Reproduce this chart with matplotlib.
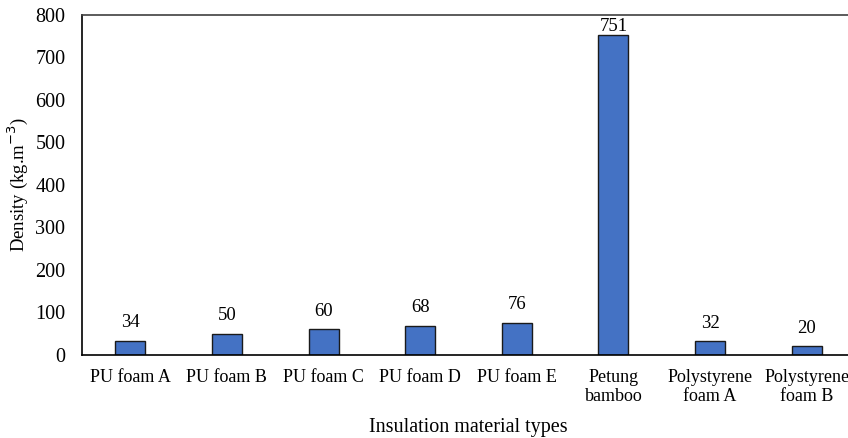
import matplotlib.pyplot as plt

plt.rcParams['font.family'] = ['Liberation Serif', 'DejaVu Serif']

# Densidade dos materiais isolantes
materiais = ['PU foam A', 'PU foam B', 'PU foam C', 'PU foam D', 'PU foam E',
             'Petung\nbamboo', 'Polystyrene\nfoam A', 'Polystyrene\nfoam B']
densidade = [34, 50, 60, 68, 76, 751, 32, 20]

fig = plt.figure(figsize=(8.48, 4.38), dpi=100)
ax = fig.add_axes([82 / 848, 1 - 355 / 438, (855 - 82) / 848, (355 - 14.5) / 438])

pos = list(range(len(materiais)))
ax.bar(pos, densidade, width=0.31, color='#4472C4', edgecolor='#1a1a1a', linewidth=1.0, zorder=2)

# Rótulos de valor acima das barras
for x, v in zip(pos, densidade):
    off = 0.5 if v > 700 else 7
    ax.annotate(str(v), (x, v), xytext=(0, off), textcoords='offset points',
                ha='center', va='bottom', fontsize=13.5)

ax.set_xlim(-0.5, len(materiais) - 0.5)
ax.set_ylim(0, 800)
ax.set_yticks(range(0, 801, 100))
ax.set_xticks(pos)
ax.set_xticklabels(materiais, fontsize=13, linespacing=1.2)
ax.tick_params(axis='y', length=0, pad=12, labelsize=14.5)
ax.tick_params(axis='x', length=0, pad=10)

for s in ['left', 'bottom']:
    ax.spines[s].set_color('black')
    ax.spines[s].set_linewidth(1.2)
ax.spines['top'].set_color('#404040')
ax.spines['top'].set_linewidth(1.2)
ax.spines['right'].set_visible(False)

ax.set_ylabel('Density (kg.m$^{-3}$)', fontsize=13.5, labelpad=4)
ax.set_xlabel('Insulation material types', fontsize=14.5, labelpad=9)

fig.savefig('out.png', dpi=100)
